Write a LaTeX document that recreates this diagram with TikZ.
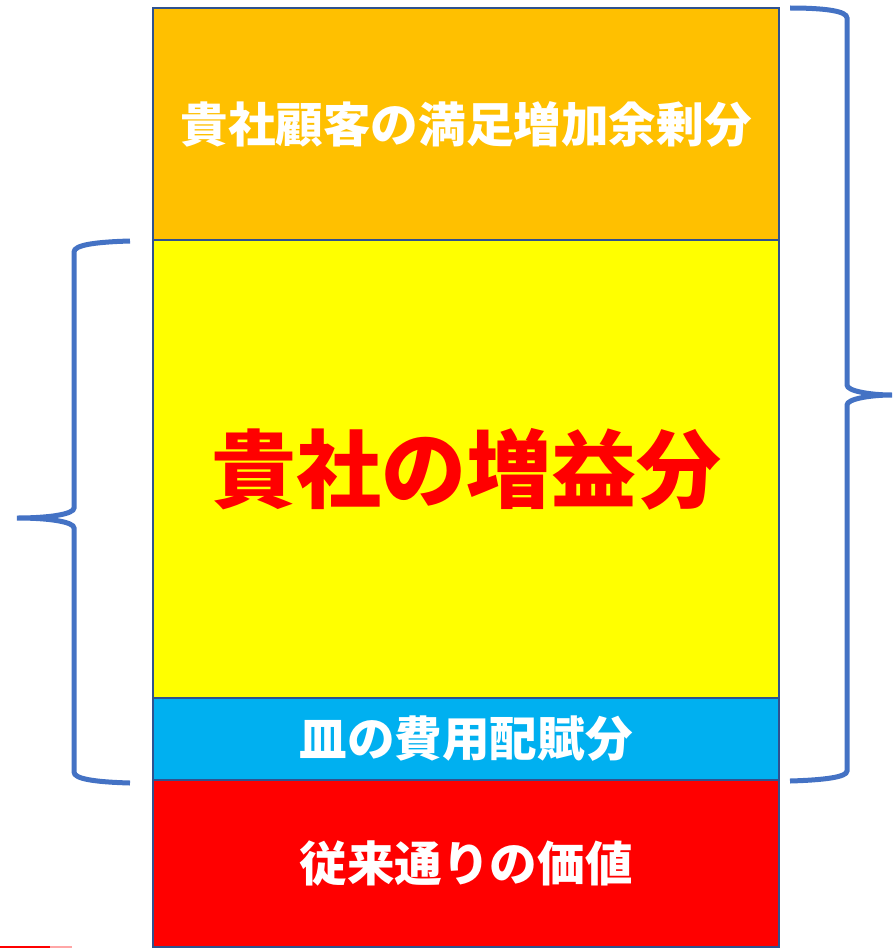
\documentclass[tikz,border=0pt]{standalone}
\usepackage{fontspec}
\usepackage{tikz}
\usetikzlibrary{positioning}
\newfontfamily\jpfont{Noto Sans CJK JP}
\definecolor{surplusC}{RGB}{255,192,0}
\definecolor{profitC}{RGB}{255,255,0}
\definecolor{plateC}{RGB}{0,176,240}
\definecolor{baseC}{RGB}{255,0,0}
\definecolor{edgeC}{RGB}{47,82,143}
\definecolor{braceC}{RGB}{68,114,196}
\tikzset{
  layer/.style={draw=edgeC, line width=1.5pt, minimum width=469.5pt,
    outer sep=0pt, inner sep=0pt, font=\jpfont\bfseries},
  bracket/.style={draw=braceC, line width=3.75pt}
}

\begin{document}
\begin{tikzpicture}[x=0.75pt, y=-0.75pt]
  \useasboundingbox (0,0) rectangle (892,949);
  % layers, top to bottom
  \node[layer, fill=surplusC, minimum height=174pt, text=white, anchor=north,
    font=\jpfont\bfseries\fontsize{35.7pt}{40pt}\selectfont] (surplus) at (466,8)
    {貴社顧客の満足増加余剰分};
  \node[layer, fill=profitC, minimum height=343.5pt, text=red, below=0pt of surplus,
    font=\jpfont\bfseries\fontsize{63.75pt}{70pt}\selectfont] (profit)
    {貴社の増益分};
  \node[layer, fill=plateC, minimum height=61.5pt, text=white, below=0pt of profit,
    font=\jpfont\bfseries\fontsize{35.7pt}{40pt}\selectfont] (plate)
    {皿の費用配賦分};
  \node[layer, fill=baseC, minimum height=125.25pt, text=white, below=0pt of plate,
    font=\jpfont\bfseries\fontsize{35.7pt}{40pt}\selectfont] (base)
    {従来通りの価値};
  % left brace
  \draw[bracket] (130,241) .. controls (95,242) and (74,245) .. (74,252)
    -- (74,508) .. controls (74,514) and (50,518) .. (17,518)
    .. controls (50,518) and (74,522) .. (74,528)
    -- (74,772) .. controls (74,779) and (95,782) .. (130,783);
  % right brace
  \draw[bracket] (790,8) .. controls (825,8) and (847,11) .. (847,18)
    -- (847,385) .. controls (847,391) and (870,395) .. (892,395)
    .. controls (870,395) and (847,399) .. (847,405)
    -- (847,771) .. controls (847,777) and (825,780) .. (790,781);
  % stray mark
  \draw[baseC, line width=1.5pt] (0,946.5) -- (50,946.5);
  \draw[baseC!35, line width=1.5pt] (50,946.5) -- (72,946.5);
\end{tikzpicture}
\end{document}
